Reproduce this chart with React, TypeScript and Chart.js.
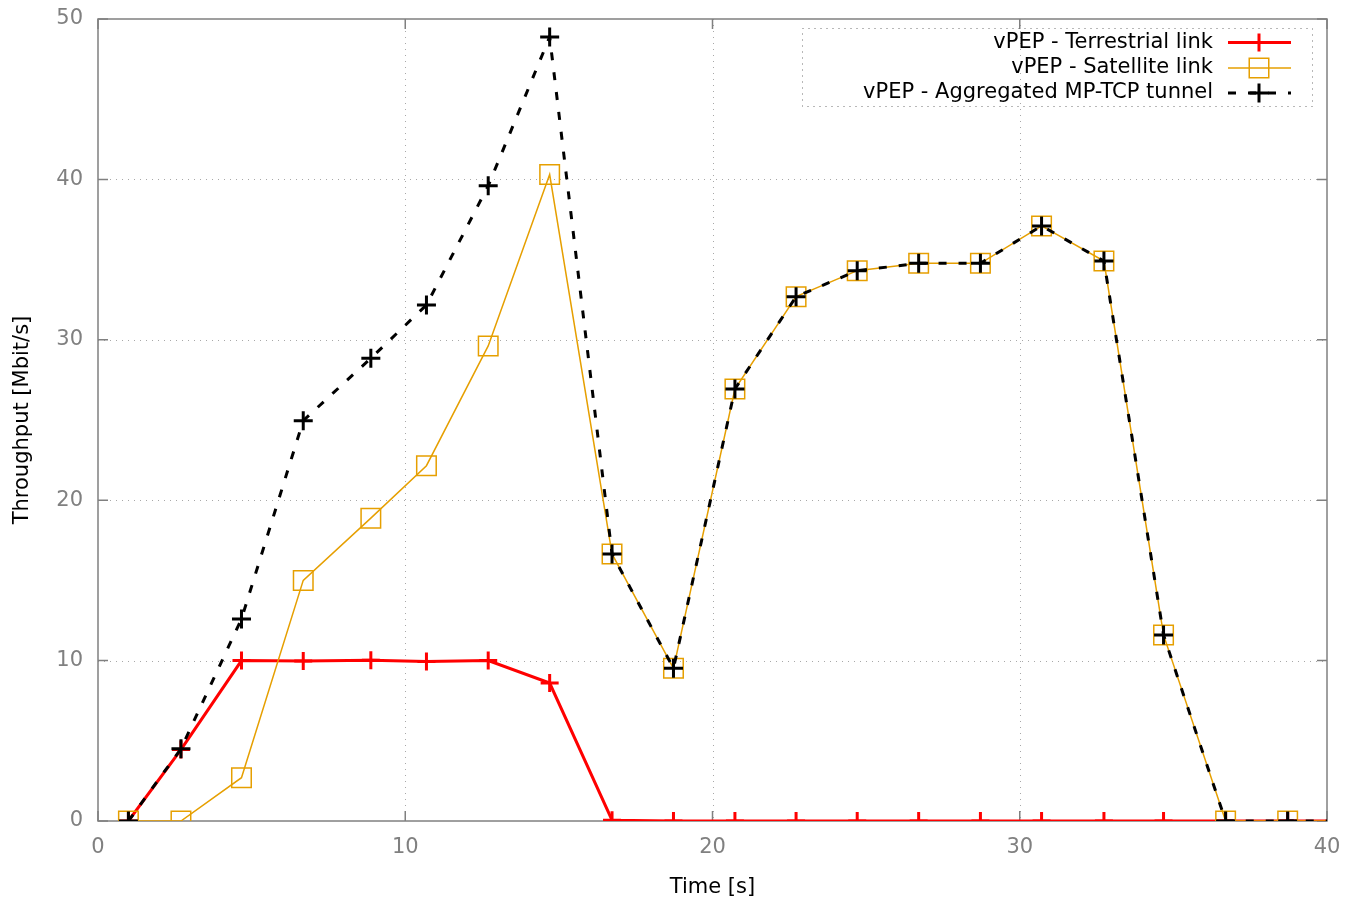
import React, { useEffect, useRef } from 'react';
import { Chart, registerables } from 'chart.js';

Chart.register(...registerables);

// ---- data ----
const timeS = [0.99, 2.7, 4.67, 6.68, 8.88, 10.69, 12.7, 14.7, 16.73, 18.73, 20.73, 22.72, 24.71, 26.71, 28.72, 30.71, 32.74, 34.68, 36.7, 38.72, 40.72];
const terrestrial = [0, 4.45, 10.0, 9.98, 10.02, 9.95, 10.0, 8.6, 0.05, 0, 0, 0, 0, 0, 0, 0, 0, 0, 0, 0, 0];
const satellite = [0, 0, 2.7, 15.0, 18.88, 22.15, 29.62, 40.3, 16.65, 9.52, 26.93, 32.69, 34.31, 34.77, 34.77, 37.1, 34.91, 11.6, 0, 0, 0];
const aggregated = [0, 4.5, 12.6, 24.96, 28.85, 32.17, 39.6, 48.88, 16.65, 9.52, 26.93, 32.69, 34.31, 34.77, 34.77, 37.1, 34.91, 11.6, 0, 0, 0];
const seriesLabels = ['vPEP - Terrestrial link', 'vPEP - Satellite link', 'vPEP - Aggregated MP-TCP tunnel'];
const xTicks = [0, 10, 20, 30, 40];
const yTicks = [0, 10, 20, 30, 40, 50];
const xTitle = 'Time [s]';
const yTitle = 'Throughput [Mbit/s]';

const FONT = "'DejaVu Sans', Verdana, sans-serif";
const FONT_SIZE = 21;
const RED = '#ff0000';
const ORANGE = '#e69f00';
const BLACK = '#000000';
const AXIS_GRAY = '#808080';

const toPoints = (ys: number[]) => ys.map((v, i) => ({ x: timeS[i], y: v }));

const framePlugin = {
  id: 'gnuplotFrame',
  beforeDatasetsDraw(chart: any) {
    const { ctx, chartArea } = chart;
    const { left, right, top, bottom } = chartArea;
    const xs = chart.scales.x;
    const ys = chart.scales.y;
    ctx.save();
    // dotted grid
    ctx.strokeStyle = '#a8a8a8';
    ctx.lineWidth = 1;
    ctx.setLineDash([1, 5]);
    xTicks.forEach((v) => {
      if (v <= xs.min || v >= xs.max) return;
      const px = Math.round(xs.getPixelForValue(v)) + 0.5;
      ctx.beginPath();
      ctx.moveTo(px, top);
      ctx.lineTo(px, bottom);
      ctx.stroke();
    });
    yTicks.forEach((v) => {
      if (v <= ys.min || v >= ys.max) return;
      const py = Math.round(ys.getPixelForValue(v)) + 0.5;
      ctx.beginPath();
      ctx.moveTo(left, py);
      ctx.lineTo(right, py);
      ctx.stroke();
    });
    // border
    ctx.setLineDash([]);
    ctx.strokeStyle = AXIS_GRAY;
    ctx.lineWidth = 1.5;
    ctx.strokeRect(left, top, right - left, bottom - top);
    // inward tick marks on all four sides
    const tl = 10;
    ctx.beginPath();
    xTicks.forEach((v) => {
      const px = xs.getPixelForValue(v);
      ctx.moveTo(px, bottom);
      ctx.lineTo(px, bottom - tl);
      ctx.moveTo(px, top);
      ctx.lineTo(px, top + tl);
    });
    yTicks.forEach((v) => {
      const py = ys.getPixelForValue(v);
      ctx.moveTo(left, py);
      ctx.lineTo(left + tl, py);
      ctx.moveTo(right, py);
      ctx.lineTo(right - tl, py);
    });
    ctx.stroke();
    ctx.restore();
  },
};

const legendPlugin = {
  id: 'gnuplotLegend',
  afterDatasetsDraw(chart: any) {
    const { ctx } = chart;
    const boxL = 802, boxT = 28, boxR = 1312, boxB = 106;
    const textRight = 1213;
    const sampleL = 1228, sampleR = 1291;
    const rowY = [42.5, 68, 93];
    ctx.save();
    // dotted box
    ctx.strokeStyle = '#707070';
    ctx.lineWidth = 1;
    ctx.setLineDash([1, 5]);
    ctx.strokeRect(boxL + 0.5, boxT + 0.5, boxR - boxL, boxB - boxT);
    ctx.setLineDash([]);
    ctx.font = `${FONT_SIZE}px ${FONT}`;
    ctx.textAlign = 'right';
    ctx.textBaseline = 'middle';
    ctx.fillStyle = '#000';
    chart.data.datasets.forEach((ds: any) => {
      const y = rowY[ds.legendRow];
      ctx.fillText(ds.label, textRight, y);
      // sample line
      ctx.strokeStyle = ds.borderColor;
      ctx.lineWidth = ds.borderWidth;
      ctx.setLineDash(ds.borderDash || []);
      ctx.beginPath();
      ctx.moveTo(sampleL, y);
      ctx.lineTo(sampleR, y);
      ctx.stroke();
      ctx.setLineDash([]);
      const cx = (sampleL + sampleR) / 2 - 0.5;
      ctx.strokeStyle = ds.pointBorderColor;
      ctx.lineWidth = ds.pointBorderWidth;
      ctx.beginPath();
      if (ds.pointStyle === 'rect') {
        const s = ds.pointRadius * Math.SQRT1_2;
        ctx.rect(cx - s, y - s, 2 * s, 2 * s);
      } else {
        const r = ds.pointRadius;
        ctx.moveTo(cx - r, y);
        ctx.lineTo(cx + r, y);
        ctx.moveTo(cx, y - r);
        ctx.lineTo(cx, y + r);
      }
      ctx.stroke();
    });
    ctx.restore();
  },
};

export default function App() {
  const canvasRef = useRef<HTMLCanvasElement | null>(null);

  useEffect(() => {
    const canvas = canvasRef.current;
    if (!canvas) return;
    const chart = new Chart(canvas, {
      type: 'line',
      data: {
        datasets: [
          {
            label: seriesLabels[2],
            legendRow: 2,
            data: toPoints(aggregated),
            borderColor: BLACK,
            borderWidth: 3,
            borderDash: [8, 12],
            pointStyle: 'cross',
            pointRadius: 9.5,
            pointBorderWidth: 3,
            pointBorderColor: BLACK,
            pointBackgroundColor: 'rgba(0,0,0,0)',
            pointHoverRadius: 9.5,
            tension: 0,
            fill: false,
          } as any,
          {
            label: seriesLabels[1],
            legendRow: 1,
            data: toPoints(satellite),
            borderColor: ORANGE,
            borderWidth: 1.5,
            pointStyle: 'rect',
            pointRadius: 13.8,
            pointBorderWidth: 1.5,
            pointBorderColor: ORANGE,
            pointBackgroundColor: 'rgba(0,0,0,0)',
            pointHoverRadius: 13.8,
            tension: 0,
            fill: false,
          } as any,
          {
            label: seriesLabels[0],
            legendRow: 0,
            data: toPoints(terrestrial),
            borderColor: RED,
            borderWidth: 3,
            pointStyle: 'cross',
            pointRadius: 9,
            pointBorderWidth: 3,
            pointBorderColor: RED,
            pointBackgroundColor: 'rgba(0,0,0,0)',
            pointHoverRadius: 9,
            tension: 0,
            fill: false,
          } as any,
        ],
      },
      options: {
        responsive: false,
        animation: false,
        events: [],
        layout: { padding: { top: 19, right: 29, left: 0, bottom: 0 } },
        plugins: {
          legend: { display: false },
          tooltip: { enabled: false },
          title: { display: false },
        },
        scales: {
          x: {
            type: 'linear',
            min: 0,
            max: 40,
            afterFit: (s: any) => {
              s.height = 82;
              s.paddingLeft = 0;
              s.paddingRight = 0;
            },
            afterBuildTicks: (s: any) => {
              s.ticks = xTicks.map((v) => ({ value: v }));
            },
            grid: { display: false, drawTicks: false },
            border: { display: false },
            ticks: {
              padding: 14.4,
              color: AXIS_GRAY,
              font: { family: FONT, size: FONT_SIZE },
              maxRotation: 0,
            },
            title: {
              display: true,
              text: xTitle,
              color: '#000',
              font: { family: FONT, size: FONT_SIZE },
              padding: { top: 0, bottom: 2.4 },
            },
          },
          y: {
            type: 'linear',
            min: 0,
            max: 50,
            afterFit: (s: any) => {
              s.width = 98;
              s.paddingTop = 0;
              s.paddingBottom = 0;
            },
            afterBuildTicks: (s: any) => {
              s.ticks = yTicks.map((v) => ({ value: v }));
            },
            grid: { display: false, drawTicks: false },
            border: { display: false },
            ticks: {
              padding: 15,
              color: AXIS_GRAY,
              font: { family: FONT, size: FONT_SIZE },
            },
            title: {
              display: true,
              text: yTitle,
              color: '#000',
              font: { family: FONT, size: FONT_SIZE },
              padding: { top: 10.4, bottom: 0 },
            },
          },
        },
      } as any,
      plugins: [framePlugin, legendPlugin],
    });
    return () => chart.destroy();
  }, []);

  return (
    <div style={{ position: 'absolute', left: 0, top: 0, width: 1356, height: 903, background: '#fff' }}>
      <canvas ref={canvasRef} width={1356} height={903} style={{ display: 'block' }} />
    </div>
  );
}
